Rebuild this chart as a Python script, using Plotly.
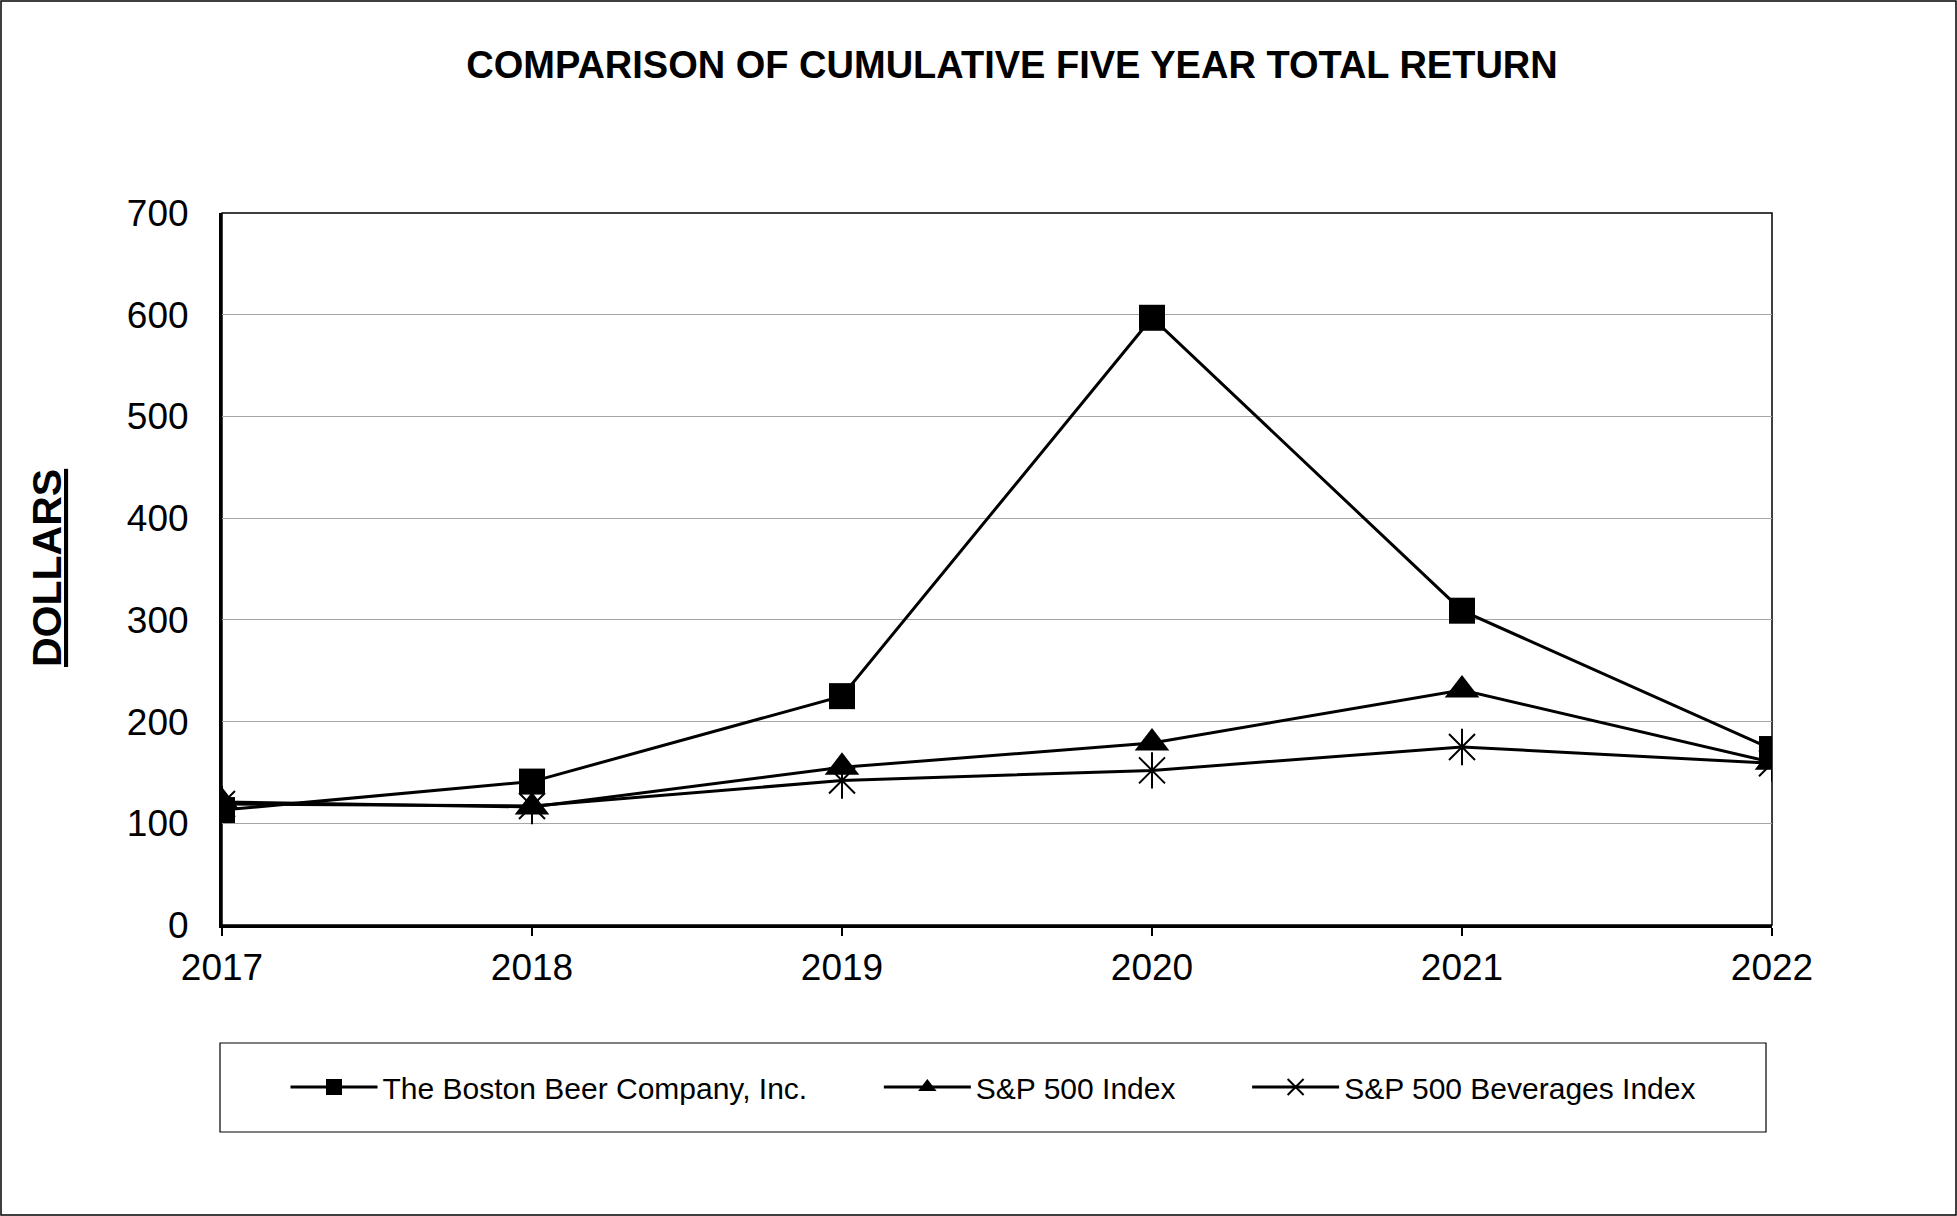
import plotly.graph_objects as go

years = [2017, 2018, 2019, 2020, 2021, 2022]
boston_beer = [113, 141, 225, 597, 309, 173]
sp500 = [121, 116, 155, 179, 231, 160]
sp500_bev = [119, 117, 142, 152, 175, 159]
y_ticks = [0, 100, 200, 300, 400, 500, 600, 700]

W, H = 1957, 1216
L, R, T, B = 222, 1772, 213, 925  # plot area in pixels
pw, ph = R - L, B - T

def px(x):
    return (x - L) / pw

def py(y):
    return (B - y) / ph

FONT = "Liberation Sans, Arial, sans-serif"
NB = "\u00a0"

fig = go.Figure()
fig.add_trace(go.Scatter(
    x=years, y=boston_beer, mode="lines+markers", name="The Boston Beer Company, Inc." + NB * 8,
    line=dict(color="black", width=3),
    marker=dict(symbol="square", size=26, color="black"),
))
fig.add_trace(go.Scatter(
    x=years, y=sp500, mode="lines+markers", name="S&P 500 Index" + NB * 8,
    line=dict(color="black", width=3),
    marker=dict(symbol="triangle-up", size=30, color="black"),
))
fig.add_trace(go.Scatter(
    x=years, y=sp500_bev, mode="lines+markers", name="S&P 500 Beverages Index",
    legendgroup="bev",
    line=dict(color="black", width=3),
    marker=dict(symbol="x-thin-open", size=26, color="black", line=dict(color="black", width=2)),
))
fig.add_trace(go.Scatter(
    x=years, y=sp500_bev, mode="markers", name="S&P 500 Beverages Index",
    legendgroup="bev", showlegend=False,
    marker=dict(symbol="line-ns-open", size=26, color="black", line=dict(color="black", width=2)),
))

shapes = [
    dict(type="rect", xref="paper", yref="paper", x0=0, x1=1, y0=0, y1=1,
         line=dict(color="black", width=1.5), layer="below"),
    dict(type="rect", xref="paper", yref="paper",
         x0=px(220), x1=px(1766), y0=py(1132), y1=py(1043),
         line=dict(color="black", width=1.2)),
    dict(type="rect", xref="paper", yref="paper",
         x0=px(1), x1=px(W - 1), y0=py(H - 1), y1=py(1),
         line=dict(color="black", width=1.5)),
]

annotations = [
    dict(text="<b><u>DOLLARS</u></b>", xref="paper", yref="paper",
         x=px(47), y=py(568), xanchor="center", yanchor="middle",
         textangle=-90, showarrow=False,
         font=dict(size=41, family=FONT, color="black")),
]

fig.update_layout(
    width=W, height=H,
    margin=dict(l=L, r=W - R, t=T, b=H - B),
    paper_bgcolor="white", plot_bgcolor="white",
    font=dict(family=FONT, color="black"),
    title=dict(text="<b>COMPARISON OF CUMULATIVE FIVE YEAR TOTAL RETURN</b>",
               x=px(1012), xref="paper", xanchor="center",
               y=1 - 65 / H, yref="container", yanchor="middle",
               font=dict(size=38, family=FONT, color="black")),
    xaxis=dict(range=[2017, 2022], tickvals=years, ticktext=[str(y) for y in years],
               showgrid=False, zeroline=False, showline=True, linecolor="black", linewidth=3,
               ticks="outside", ticklen=8, tickwidth=2, tickcolor="black",
               tickfont=dict(size=37, family=FONT, color="black")),
    yaxis=dict(range=[0, 700], tickvals=y_ticks, showgrid=True, gridcolor="#a6a6a6", gridwidth=1,
               zeroline=False, showline=True, linecolor="black", linewidth=3,
               ticks="", ticklabelstandoff=23,
               tickfont=dict(size=37, family=FONT, color="black")),
    legend=dict(orientation="h", x=px(993), xanchor="center", y=py(1087), yanchor="middle",
                font=dict(size=30, family=FONT, color="black"), itemwidth=87,
                bgcolor="rgba(0,0,0,0)", borderwidth=0),
    shapes=shapes,
    annotations=annotations,
)

fig.write_html("out.html", config={"displayModeBar": False},
               post_script="document.body.style.margin='0';")
